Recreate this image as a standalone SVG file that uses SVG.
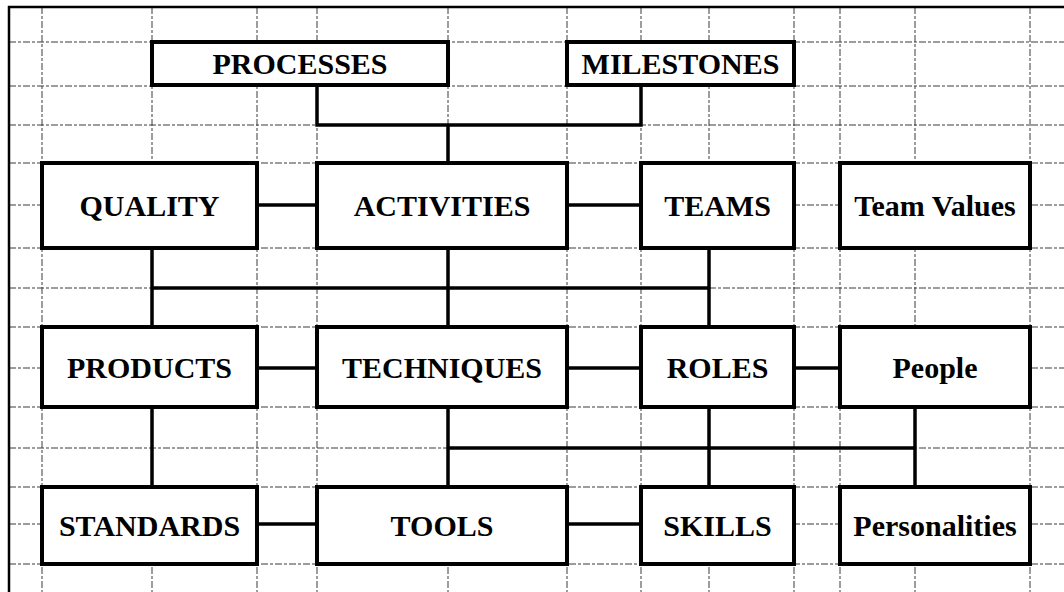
<svg xmlns="http://www.w3.org/2000/svg" width="1064" height="592" viewBox="0 0 1064 592">
<style>
.grid line{stroke:#3a3a3a;stroke-width:1;stroke-dasharray:7 2 3 2}
.border{stroke:#000;stroke-width:2.5;fill:none}
.box{fill:#fff;stroke:#000;stroke-width:4}
.conn path{fill:none;stroke:#000;stroke-width:3.5}
text{font-family:"Liberation Serif","Times New Roman",serif;font-weight:bold;font-size:30px;fill:#000;text-anchor:middle}
</style>
<rect width="1064" height="592" fill="#fff"/>
<g class="grid">
<line x1="9" y1="42" x2="1064" y2="42"/>
<line x1="9" y1="86" x2="1064" y2="86"/>
<line x1="9" y1="125" x2="1064" y2="125"/>
<line x1="9" y1="163" x2="1064" y2="163"/>
<line x1="9" y1="205" x2="1064" y2="205"/>
<line x1="9" y1="248" x2="1064" y2="248"/>
<line x1="9" y1="288" x2="1064" y2="288"/>
<line x1="9" y1="327" x2="1064" y2="327"/>
<line x1="9" y1="368" x2="1064" y2="368"/>
<line x1="9" y1="407" x2="1064" y2="407"/>
<line x1="9" y1="448" x2="1064" y2="448"/>
<line x1="9" y1="487" x2="1064" y2="487"/>
<line x1="9" y1="524" x2="1064" y2="524"/>
<line x1="9" y1="564" x2="1064" y2="564"/>
<line x1="42" y1="7" x2="42" y2="592"/>
<line x1="152" y1="7" x2="152" y2="592"/>
<line x1="257" y1="7" x2="257" y2="592"/>
<line x1="317" y1="7" x2="317" y2="592"/>
<line x1="448" y1="7" x2="448" y2="592"/>
<line x1="567" y1="7" x2="567" y2="592"/>
<line x1="641" y1="7" x2="641" y2="592"/>
<line x1="709" y1="7" x2="709" y2="592"/>
<line x1="794" y1="7" x2="794" y2="592"/>
<line x1="840" y1="7" x2="840" y2="592"/>
<line x1="915" y1="7" x2="915" y2="592"/>
<line x1="1030" y1="7" x2="1030" y2="592"/>
</g>
<path class="border" d="M9,592 V7 H1064"/>
<g class="conn" id="connectors">
<path d="M317,85 V125 H641 V85"/>
<path d="M448,125 V163"/>
<path d="M257,205 H317"/>
<path d="M567,205 H641"/>
<path d="M152,248 V327"/>
<path d="M448,248 V327"/>
<path d="M709,248 V327"/>
<path d="M152,288 H709"/>
<path d="M257,368 H317"/>
<path d="M567,368 H641"/>
<path d="M794,368 H840"/>
<path d="M152,407 V487"/>
<path d="M448,407 V487"/>
<path d="M709,407 V487"/>
<path d="M915,407 V487"/>
<path d="M448,448 H915"/>
<path d="M257,524 H317"/>
<path d="M567,524 H641"/>
</g>
<g id="processes"><rect class="box" x="152" y="42" width="296" height="43"/><text x="300" y="74">PROCESSES</text></g>
<g id="milestones"><rect class="box" x="567" y="42" width="227" height="43"/><text x="680.5" y="74">MILESTONES</text></g>
<g id="quality"><rect class="box" x="42" y="163" width="215" height="85"/><text x="149.5" y="216">QUALITY</text></g>
<g id="activities"><rect class="box" x="317" y="163" width="250" height="85"/><text x="442" y="216">ACTIVITIES</text></g>
<g id="teams"><rect class="box" x="641" y="163" width="153" height="85"/><text x="717.5" y="216">TEAMS</text></g>
<g id="team-values"><rect class="box" x="840" y="163" width="190" height="85"/><text x="935" y="216">Team Values</text></g>
<g id="products"><rect class="box" x="42" y="327" width="215" height="80"/><text x="149.5" y="378">PRODUCTS</text></g>
<g id="techniques"><rect class="box" x="317" y="327" width="250" height="80"/><text x="442" y="378">TECHNIQUES</text></g>
<g id="roles"><rect class="box" x="641" y="327" width="153" height="80"/><text x="717.5" y="378">ROLES</text></g>
<g id="people"><rect class="box" x="840" y="327" width="190" height="80"/><text x="935" y="378">People</text></g>
<g id="standards"><rect class="box" x="42" y="487" width="215" height="77"/><text x="149.5" y="536">STANDARDS</text></g>
<g id="tools"><rect class="box" x="317" y="487" width="250" height="77"/><text x="442" y="536">TOOLS</text></g>
<g id="skills"><rect class="box" x="641" y="487" width="153" height="77"/><text x="717.5" y="536">SKILLS</text></g>
<g id="personalities"><rect class="box" x="840" y="487" width="190" height="77"/><text x="935" y="536">Personalities</text></g>
</svg>
